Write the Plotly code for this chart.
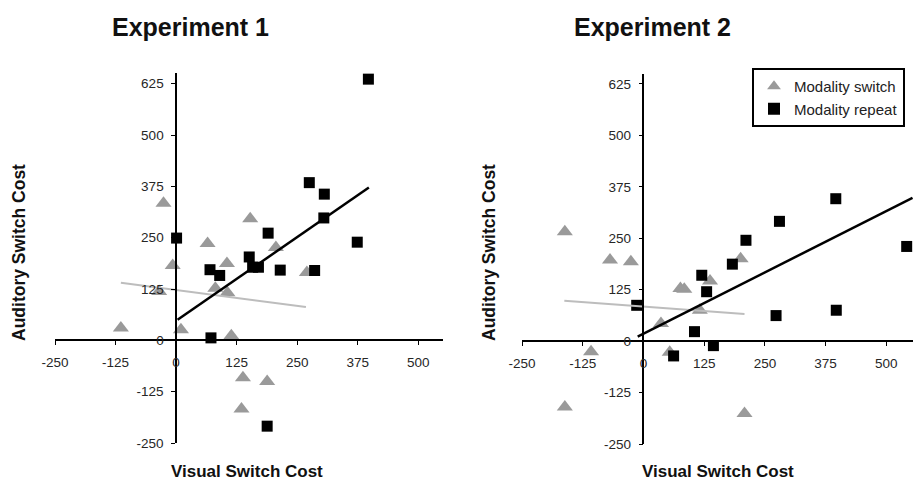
import plotly.graph_objects as go

# ---------------- data ----------------
# Experiment 1
e1_switch_x = [-26, 153, 65, 206, -7, 105, -35, 81, 106, 270, -114, 10, 114, 138, 188, 135]
e1_switch_y = [334, 296, 236, 226, 182, 187, 119, 127, 116, 165, 30, 26, 11, -91, -100, -167]
e1_repeat_x = [397, 275, 306, 305, 374, 190, 1, 151, 158, 170, 215, 286, 70, 90, 72, 188]
e1_repeat_y = [636, 384, 356, 298, 239, 261, 249, 203, 178, 178, 171, 170, 172, 158, 6, -209]
e1_switch_fit_x = [-114, 268]
e1_switch_fit_y = [140, 81]
e1_repeat_fit_x = [3, 398]
e1_repeat_fit_y = [50, 372]

# Experiment 2
e2_switch_x = [-162, -69, -26, 200, 76, 84, 137, 116, 36, -108, 54, -162, 208]
e2_switch_y = [266, 197, 193, 200, 128, 126, 146, 75, 43, -26, -27, -160, -176]
e2_repeat_x = [396, 280, 211, 542, 183, 120, 130, -14, 273, 397, 105, 144, 62]
e2_repeat_y = [346, 291, 245, 230, 187, 160, 120, 87, 62, 75, 23, -11, -36]
e2_switch_fit_x = [-163, 208]
e2_switch_fit_y = [98, 66]
e2_repeat_fit_x = [-12, 554]
e2_repeat_fit_y = [11, 348]

x_ticks = [-250, -125, 0, 125, 250, 375, 500]
y_ticks = [-250, -125, 0, 125, 250, 375, 500, 625]
titles = ["Experiment 1", "Experiment 2"]
x_title = "Visual Switch Cost"
y_title = "Auditory Switch Cost"
legend_names = ["Modality switch", "Modality repeat"]

# ---------------- styling ----------------
W, H = 913, 483
FONT = "Liberation Sans, Arial, sans-serif"
TRI_COLOR = "#9a9a9a"
SQ_COLOR = "#000000"
GRAY_LINE = "#bdbdbd"

panels = [
    dict(xr=[-250, 550], yr=[-250, 650], xdom=[55 / W, 442.5 / W], ydom=[40 / H, 409.6 / H]),
    dict(xr=[-250, 555], yr=[-250, 650], xdom=[522.1 / W, 1.0], ydom=[39 / H, 409.4 / H]),
]

data_sets = [
    (e1_switch_x, e1_switch_y, e1_repeat_x, e1_repeat_y,
     e1_switch_fit_x, e1_switch_fit_y, e1_repeat_fit_x, e1_repeat_fit_y),
    (e2_switch_x, e2_switch_y, e2_repeat_x, e2_repeat_y,
     e2_switch_fit_x, e2_switch_fit_y, e2_repeat_fit_x, e2_repeat_fit_y),
]

fig = go.Figure()
layout = dict(
    width=W, height=H, autosize=False,
    margin=dict(l=0, r=0, t=0, b=0, pad=0, autoexpand=False),
    paper_bgcolor="white", plot_bgcolor="white",
    font=dict(family=FONT, color="#222"),
    showlegend=True,
    legend=dict(
        x=752 / W, y=(H - 68) / H, xanchor="left", yanchor="top",
        bgcolor="white", bordercolor="black", borderwidth=2,
        font=dict(size=15, family=FONT, color="#222"),
        tracegroupgap=0, itemsizing="constant",
    ),
)

annotations = []
for i, (p, d) in enumerate(zip(panels, data_sets)):
    sx, sy, rx, ry, sfx, sfy, rfx, rfy = d
    n = "" if i == 0 else str(i + 1)
    xa, ya = "x" + n, "y" + n
    xd, yd = p["xdom"], p["ydom"]
    # position of the crossing axes at zero
    ypos = yd[0] + (yd[1] - yd[0]) * (0 - p["yr"][0]) / (p["yr"][1] - p["yr"][0])
    xpos = xd[0] + (xd[1] - xd[0]) * (0 - p["xr"][0]) / (p["xr"][1] - p["xr"][0])

    fig.add_trace(go.Scatter(
        x=sx, y=sy, mode="markers", xaxis=xa, yaxis=ya,
        name=legend_names[0], legendgroup="switch", showlegend=(i == 1),
        marker=dict(symbol="triangle-up", size=14, color=TRI_COLOR, line=dict(width=0)),
        cliponaxis=False,
    ))
    fig.add_trace(go.Scatter(
        x=rx, y=ry, mode="markers", xaxis=xa, yaxis=ya,
        name=legend_names[1], legendgroup="repeat", showlegend=(i == 1),
        marker=dict(symbol="square", size=11, color=SQ_COLOR, line=dict(width=0)),
        cliponaxis=False,
    ))
    fig.add_trace(go.Scatter(
        x=sfx, y=sfy, mode="lines", xaxis=xa, yaxis=ya, showlegend=False,
        line=dict(color=GRAY_LINE, width=2), hoverinfo="skip",
    ))
    fig.add_trace(go.Scatter(
        x=rfx, y=rfy, mode="lines", xaxis=xa, yaxis=ya, showlegend=False,
        line=dict(color="black", width=2.5), hoverinfo="skip",
    ))

    layout["xaxis" + n] = dict(
        domain=xd, range=p["xr"], anchor="free", position=ypos,
        showgrid=False, zeroline=False, showline=True, linecolor="black", linewidth=1.5,
        ticks="outside", ticklen=4, tickcolor="black", tickwidth=1,
        tickvals=x_ticks, ticktext=[str(v) for v in x_ticks],
        tickfont=dict(size=13.5, family=FONT, color="#262626"), ticklabelstandoff=6,
        fixedrange=True, automargin=False,
    )
    layout["yaxis" + n] = dict(
        domain=yd, range=p["yr"], anchor="free", position=xpos,
        showgrid=False, zeroline=False, showline=True, linecolor="black", linewidth=1.5,
        ticks="outside", ticklen=4, tickcolor="black", tickwidth=1,
        tickvals=y_ticks, ticktext=[str(v) for v in y_ticks],
        tickfont=dict(size=13.5, family=FONT, color="#262626"), ticklabelstandoff=5,
        fixedrange=True, automargin=False,
    )

# titles and axis titles
title_x = [190, 652]
xt_x = [247, 718]
yt_x = [19, 489]
for i in range(2):
    annotations.append(dict(
        text="<b>" + titles[i] + "</b>", x=title_x[i] / W, y=(H - 27) / H,
        xref="paper", yref="paper", showarrow=False, xanchor="center", yanchor="middle",
        font=dict(size=25, family=FONT, color="#111"),
    ))
    annotations.append(dict(
        text="<b>" + x_title + "</b>", x=xt_x[i] / W, y=(H - 471) / H,
        xref="paper", yref="paper", showarrow=False, xanchor="center", yanchor="middle",
        font=dict(size=17, family=FONT, color="#111"),
    ))
    annotations.append(dict(
        text="<b>" + y_title + "</b>", x=yt_x[i] / W, y=(H - 253) / H,
        xref="paper", yref="paper", showarrow=False, xanchor="center", yanchor="middle",
        textangle=-90, font=dict(size=17.5, family=FONT, color="#111"),
    ))
layout["annotations"] = annotations

fig.update_layout(**layout)
fig.write_html(
    "out.html",
    config={"displayModeBar": False, "staticPlot": False},
    post_script="document.body.style.margin='0';document.body.style.overflow='hidden';",
)
